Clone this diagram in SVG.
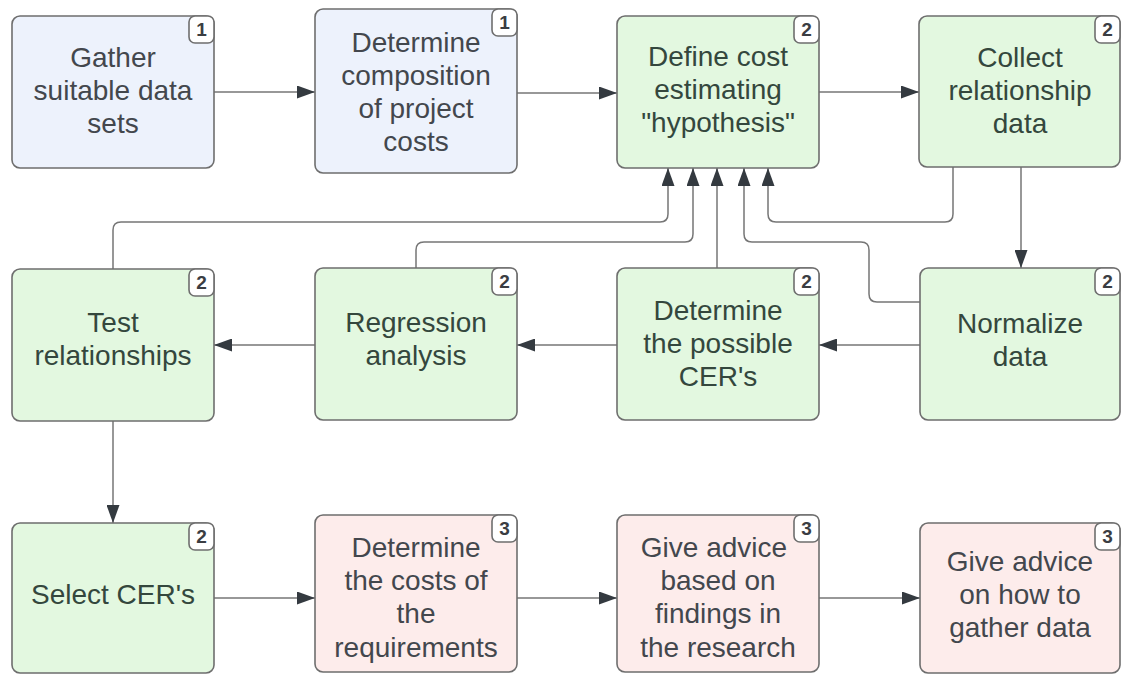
<svg xmlns="http://www.w3.org/2000/svg" width="1122" height="677" viewBox="0 0 1122 677">
<defs>
<style>
.box{stroke:#6e6e6e;stroke-width:1.6}
.blue{fill:#edf2fc}
.green{fill:#e3f8e0}
.pink{fill:#fdeceb}
.t{font-family:"Liberation Sans",Arial,sans-serif;font-size:28px;text-anchor:middle;fill:#43474d}
.tg{fill:#34473d}
.badge{fill:#ffffff;stroke:#6e6e6e;stroke-width:1.6}
.bn{font-family:"Liberation Sans",Arial,sans-serif;font-size:19px;font-weight:bold;text-anchor:middle;fill:#3a3d42}
.c{fill:none;stroke:#767676;stroke-width:1.5;marker-end:url(#ah)}
</style>
<marker id="ah" viewBox="0 0 18 13" refX="18" refY="6.5" markerWidth="18" markerHeight="13" markerUnits="userSpaceOnUse" orient="auto">
<path d="M0,0 L18,6.5 L0,13 z" fill="#343a40"/>
</marker>
</defs>

<g id="connectors">
<path class="c" d="M214,92 H315"/>
<path class="c" d="M517,93 H617"/>
<path class="c" d="M819,92 H919"/>
<path class="c" d="M1021,167 V268"/>
<path class="c" d="M920,345 H819"/>
<path class="c" d="M617,345 H517"/>
<path class="c" d="M315,345 H214"/>
<path class="c" d="M113,421 V523"/>
<path class="c" d="M214,598 H315"/>
<path class="c" d="M517,598 H617"/>
<path class="c" d="M819,598 H920"/>
<path class="c" d="M113,269 V230 Q113,222 121,222 H660 Q668,222 668,214 V168"/>
<path class="c" d="M416,268 V250 Q416,242 424,242 H685 Q693,242 693,234 V168"/>
<path class="c" d="M717,268 V168"/>
<path class="c" d="M920,302 H877 Q869,302 869,294 V250 Q869,242 861,242 H752 Q744,242 744,234 V168"/>
<path class="c" d="M953,167 V214 Q953,222 945,222 H776 Q768,222 768,214 V168"/>
</g>

<g id="gather">
<rect class="box blue" x="12" y="16" width="202" height="152" rx="8"/>
<rect class="badge" x="189" y="16" width="25" height="27" rx="6"/>
<text class="bn" x="201.5" y="36">1</text>
<text class="t" x="113" y="67">Gather</text>
<text class="t" x="113" y="100">suitable data</text>
<text class="t" x="113" y="133">sets</text>
</g>

<g id="composition">
<rect class="box blue" x="315" y="9" width="202" height="164" rx="8"/>
<rect class="badge" x="492" y="9" width="25" height="27" rx="6"/>
<text class="bn" x="504.5" y="29">1</text>
<text class="t" x="416" y="52">Determine</text>
<text class="t" x="416" y="85">composition</text>
<text class="t" x="416" y="118">of project</text>
<text class="t" x="416" y="151">costs</text>
</g>

<g id="hypothesis">
<rect class="box green" x="617" y="16" width="202" height="152" rx="8"/>
<rect class="badge" x="794" y="16" width="25" height="27" rx="6"/>
<text class="bn" x="806.5" y="36">2</text>
<text class="t tg" x="718" y="66">Define cost</text>
<text class="t tg" x="718" y="99">estimating</text>
<text class="t tg" x="718" y="132">"hypothesis"</text>
</g>

<g id="collect">
<rect class="box green" x="919" y="16" width="201" height="151" rx="8"/>
<rect class="badge" x="1095" y="16" width="25" height="27" rx="6"/>
<text class="bn" x="1107.5" y="36">2</text>
<text class="t tg" x="1020" y="67">Collect</text>
<text class="t tg" x="1020" y="100">relationship</text>
<text class="t tg" x="1020" y="133">data</text>
</g>

<g id="test">
<rect class="box green" x="12" y="269" width="202" height="152" rx="8"/>
<rect class="badge" x="189" y="269" width="25" height="27" rx="6"/>
<text class="bn" x="201.5" y="289">2</text>
<text class="t tg" x="113" y="332">Test</text>
<text class="t tg" x="113" y="365">relationships</text>
</g>

<g id="regression">
<rect class="box green" x="315" y="268" width="202" height="152" rx="8"/>
<rect class="badge" x="492" y="268" width="25" height="27" rx="6"/>
<text class="bn" x="504.5" y="288">2</text>
<text class="t tg" x="416" y="332">Regression</text>
<text class="t tg" x="416" y="365">analysis</text>
</g>

<g id="possible">
<rect class="box green" x="617" y="268" width="202" height="152" rx="8"/>
<rect class="badge" x="794" y="268" width="25" height="27" rx="6"/>
<text class="bn" x="806.5" y="288">2</text>
<text class="t tg" x="718" y="320">Determine</text>
<text class="t tg" x="718" y="353">the possible</text>
<text class="t tg" x="718" y="386">CER's</text>
</g>

<g id="normalize">
<rect class="box green" x="920" y="268" width="200" height="152" rx="8"/>
<rect class="badge" x="1095" y="268" width="25" height="27" rx="6"/>
<text class="bn" x="1107.5" y="288">2</text>
<text class="t tg" x="1020" y="333">Normalize</text>
<text class="t tg" x="1020" y="366">data</text>
</g>

<g id="select">
<rect class="box green" x="12" y="523" width="202" height="150" rx="8"/>
<rect class="badge" x="189" y="523" width="25" height="27" rx="6"/>
<text class="bn" x="201.5" y="543">2</text>
<text class="t tg" x="113" y="604">Select CER's</text>
</g>

<g id="costs">
<rect class="box pink" x="315" y="515" width="202" height="157" rx="8"/>
<rect class="badge" x="492" y="515" width="25" height="27" rx="6"/>
<text class="bn" x="504.5" y="535">3</text>
<text class="t" x="416" y="557">Determine</text>
<text class="t" x="416" y="590">the costs of</text>
<text class="t" x="416" y="623">the</text>
<text class="t" x="416" y="657">requirements</text>
</g>

<g id="advice-findings">
<rect class="box pink" x="617" y="515" width="202" height="157" rx="8"/>
<rect class="badge" x="794" y="515" width="25" height="27" rx="6"/>
<text class="bn" x="806.5" y="535">3</text>
<text class="t" x="714" y="557">Give advice</text>
<text class="t" x="718" y="590">based on</text>
<text class="t" x="718" y="623">findings in</text>
<text class="t" x="718" y="657">the research</text>
</g>

<g id="advice-gather">
<rect class="box pink" x="920" y="523" width="200" height="150" rx="8"/>
<rect class="badge" x="1095" y="523" width="25" height="27" rx="6"/>
<text class="bn" x="1107.5" y="543">3</text>
<text class="t" x="1020" y="571">Give advice</text>
<text class="t" x="1020" y="604">on how to</text>
<text class="t" x="1020" y="637">gather data</text>
</g>
</svg>
